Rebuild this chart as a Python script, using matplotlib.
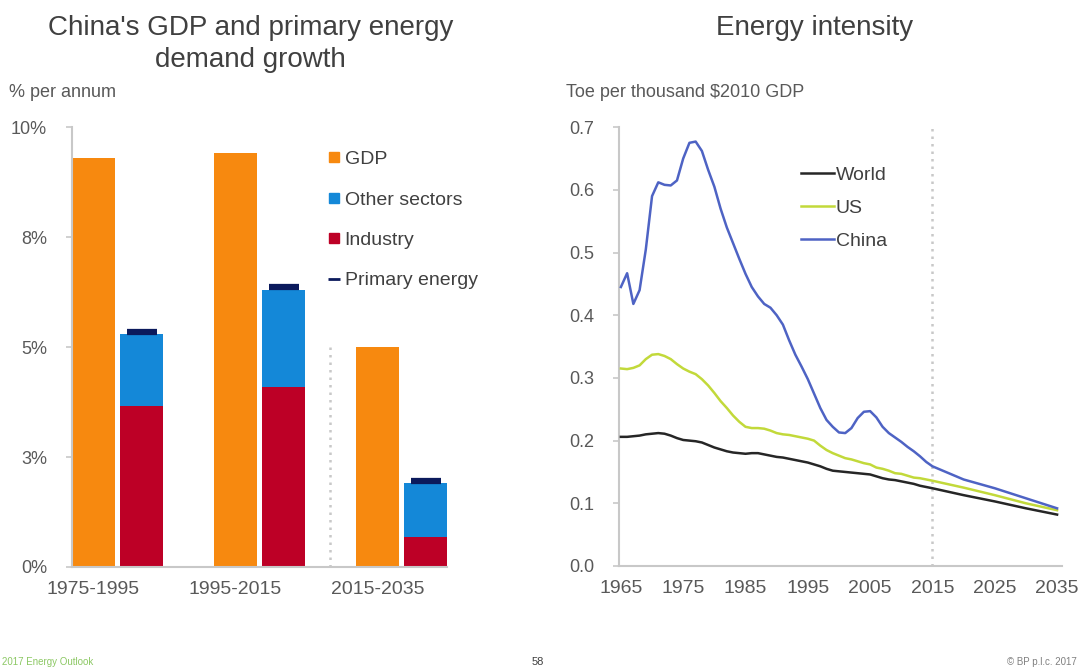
import matplotlib.pyplot as plt
from matplotlib.lines import Line2D

plt.rcParams['font.family'] = ['Liberation Sans', 'DejaVu Sans']

# China GDP vs energy demand growth, % per annum
periods = ['1975-1995', '1995-2015', '2015-2035']
gdp = [9.3, 9.4, 5.0]
industry = [3.65, 4.10, 0.69]
other_sectors = [1.65, 2.19, 1.22]
primary_energy = [5.35, 6.36, 1.95]

# Energy intensity, toe per thousand $2010 GDP
years = list(range(1965, 2016)) + [2020, 2025, 2030, 2035]
world = [0.206, 0.206, 0.207, 0.208, 0.210, 0.211, 0.212, 0.211, 0.208, 0.204,
         0.201, 0.200, 0.199, 0.197, 0.193, 0.189, 0.186, 0.183, 0.181, 0.180,
         0.179, 0.180, 0.180, 0.178, 0.176, 0.174, 0.173, 0.171, 0.169, 0.167,
         0.165, 0.162, 0.159, 0.155, 0.152, 0.151, 0.150, 0.149, 0.148, 0.147,
         0.146, 0.143, 0.140, 0.138, 0.137, 0.135, 0.133, 0.131, 0.128, 0.126,
         0.124, 0.113, 0.103, 0.092, 0.082]
us = [0.315, 0.314, 0.316, 0.320, 0.330, 0.337, 0.338, 0.335, 0.330, 0.322,
      0.315, 0.310, 0.306, 0.298, 0.288, 0.276, 0.263, 0.252, 0.240, 0.230,
      0.222, 0.220, 0.220, 0.219, 0.216, 0.212, 0.210, 0.209, 0.207, 0.205,
      0.203, 0.200, 0.192, 0.185, 0.180, 0.176, 0.172, 0.170, 0.167, 0.164,
      0.162, 0.157, 0.155, 0.152, 0.148, 0.147, 0.144, 0.141, 0.140, 0.138,
      0.136, 0.125, 0.113, 0.100, 0.089]
china = [0.445, 0.467, 0.418, 0.440, 0.505, 0.590, 0.612, 0.608, 0.607, 0.615,
         0.650, 0.675, 0.677, 0.662, 0.632, 0.605, 0.570, 0.540, 0.515, 0.490,
         0.466, 0.445, 0.430, 0.418, 0.412, 0.400, 0.385, 0.360, 0.337, 0.318,
         0.298, 0.275, 0.252, 0.233, 0.222, 0.213, 0.212, 0.220, 0.236, 0.246,
         0.247, 0.237, 0.222, 0.212, 0.205, 0.198, 0.190, 0.183, 0.175, 0.166,
         0.159, 0.138, 0.124, 0.108, 0.092]

ORANGE = '#f7890f'
BLUE = '#1488d8'
CRIMSON = '#bd0026'
NAVY = '#0b1a5c'
GRID = '#c8c8c8'
TXT = '#595959'

fig = plt.figure(figsize=(10.79, 6.71), dpi=100)


def style_axes(ax):
    for s in ['top', 'right']:
        ax.spines[s].set_visible(False)
    for s in ['left', 'bottom']:
        ax.spines[s].set_color(GRID)
        ax.spines[s].set_linewidth(1.5)
    ax.tick_params(axis='y', colors=GRID, labelcolor=TXT, length=4, width=1.2,
                   labelsize=13, pad=14)
    ax.tick_params(axis='x', length=0, labelcolor=TXT, labelsize=14, pad=10)


# ---- left: growth bars ----
ax1 = fig.add_axes([0.0667, 0.155, 0.3475, 0.6557])
w = 0.30
xg = [0, 1, 2]
xe = [x + 0.34 for x in xg]
ax1.bar(xg, gdp, width=w, color=ORANGE, zorder=2)
ax1.bar(xe, industry, width=w, color=CRIMSON, zorder=2)
ax1.bar(xe, other_sectors, width=w, bottom=industry, color=BLUE, zorder=2)
ax1.plot(xe, primary_energy, linestyle='none', marker='_', markersize=21,
         markeredgewidth=4.5, color=NAVY, zorder=3)
ax1.vlines(1.667, 0, 5.0, colors=GRID, linestyles=(0, (1, 2)), linewidth=1.8)
ax1.set_xlim(-0.15, 2.49)
ax1.set_ylim(0, 10)
ax1.set_yticks([0, 2.5, 5, 7.5, 10])
ax1.set_yticklabels(['0%', '3%', '5%', '8%', '10%'])
ax1.set_xticks(xg)
ax1.set_xticklabels(periods)
style_axes(ax1)

handles1 = [
    Line2D([], [], linestyle='none', marker='s', markersize=7, color=ORANGE),
    Line2D([], [], linestyle='none', marker='s', markersize=7, color=BLUE),
    Line2D([], [], linestyle='none', marker='s', markersize=7, color=CRIMSON),
    Line2D([], [], linestyle='none', marker='_', markersize=8,
           markeredgewidth=2, color=NAVY),
]
leg1 = fig.legend(handles1, ['GDP', 'Other sectors', 'Industry', 'Primary energy'],
                  loc='upper left', bbox_to_anchor=(0.295, 0.79), frameon=False,
                  fontsize=14, handlelength=0.6, handletextpad=0.25,
                  labelspacing=1.17, borderpad=0)
for t in leg1.get_texts():
    t.set_color('#404040')

# ---- right: intensity lines ----
ax2 = fig.add_axes([0.5737, 0.1565, 0.4106, 0.654])
ax2.plot(years, world, color='#262626', linewidth=1.8, label='World', zorder=3)
ax2.plot(years, us, color='#c2d93a', linewidth=1.8, label='US', zorder=3)
ax2.plot(years, china, color='#4e63c4', linewidth=1.8, label='China', zorder=3)
ax2.vlines(2015, 0, 0.71, colors=GRID, linestyles=(0, (1, 2)), linewidth=1.8)
ax2.set_xlim(1964.7, 2035.8)
ax2.set_ylim(0, 0.7)
ax2.set_yticks([0, 0.1, 0.2, 0.3, 0.4, 0.5, 0.6, 0.7])
ax2.set_yticklabels([f'{v:.1f}' for v in [0, 0.1, 0.2, 0.3, 0.4, 0.5, 0.6, 0.7]])
ax2.set_xticks(range(1965, 2036, 10))
style_axes(ax2)
leg2 = fig.legend(*ax2.get_legend_handles_labels(), loc='upper left',
                  bbox_to_anchor=(0.733, 0.767), frameon=False, fontsize=14,
                  handlelength=1.7, handletextpad=0.1, labelspacing=0.8,
                  borderpad=0)
for t in leg2.get_texts():
    t.set_color('#404040')

# ---- titles and unit labels ----
fig.text(0.232, 0.958, "China's GDP and primary energy", ha='center', va='center',
         fontsize=20, color='#404040')
fig.text(0.232, 0.91, 'demand growth', ha='center', va='center',
         fontsize=20, color='#404040')
fig.text(0.755, 0.958, 'Energy intensity', ha='center', va='center',
         fontsize=20, color='#404040')
fig.text(0.008, 0.862, '% per annum', ha='left', va='center', fontsize=13, color=TXT)
fig.text(0.525, 0.862, 'Toe per thousand $2010 GDP', ha='left', va='center',
         fontsize=13, color=TXT)

# ---- footer ----
fig.text(0.002, 0.013, '2017 Energy Outlook', ha='left', va='center',
         fontsize=7, color='#8cc864')
fig.text(0.498, 0.013, '58', ha='center', va='center', fontsize=8, color='#404040')
fig.text(0.998, 0.013, '\u00a9 BP p.l.c. 2017', ha='right', va='center',
         fontsize=7, color='#808080')

fig.savefig('out.png', dpi=100, facecolor='white')
